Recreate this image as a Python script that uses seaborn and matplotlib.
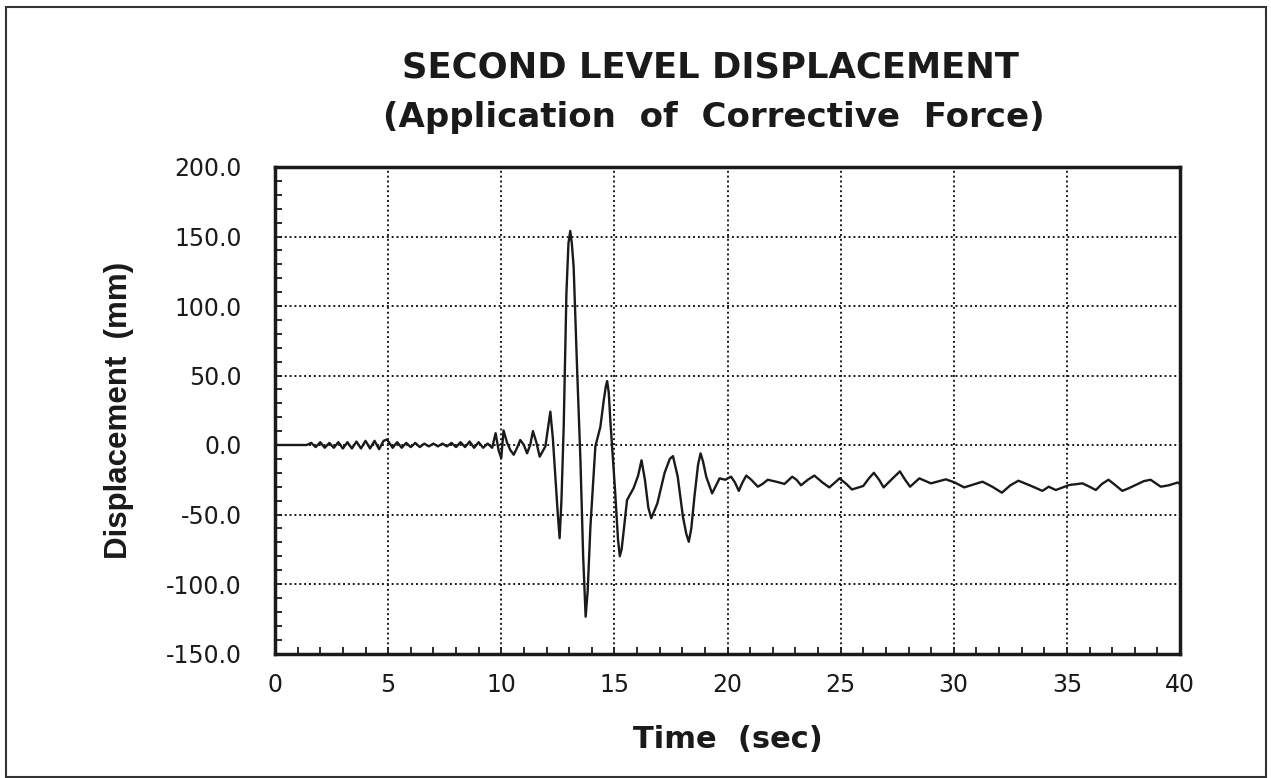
import matplotlib
matplotlib.use("Agg")
import matplotlib.pyplot as plt
import matplotlib.patches as mpatches
from matplotlib.ticker import MultipleLocator, FormatStrFormatter
import seaborn as sns
import pandas as pd

# ---- data ----
time_sec = [
    0.0, 1.4, 1.6, 1.8, 2.0, 2.2, 2.4, 2.6, 2.8, 3.0, 3.2, 3.4, 3.6, 3.8, 4.0, 4.2,
    4.4, 4.6, 4.8, 4.95, 5.2, 5.4, 5.6, 5.8, 6.0, 6.2, 6.4, 6.6, 6.8, 7.0, 7.2, 7.4,
    7.6, 7.8, 8.0, 8.2, 8.4, 8.6, 8.8, 9.0, 9.2, 9.4, 9.6, 9.75, 9.88, 10.0, 10.1,
    10.25, 10.4, 10.55, 10.7, 10.84, 11.0, 11.14, 11.28, 11.4, 11.55, 11.7, 11.95,
    12.17, 12.28, 12.39, 12.5, 12.58, 12.66, 12.76, 12.88, 12.97, 13.05, 13.12, 13.2,
    13.35, 13.5, 13.62, 13.73, 13.82, 13.94, 14.16, 14.38, 14.53, 14.62, 14.68, 14.75,
    14.82, 15.04, 15.16, 15.24, 15.32, 15.4, 15.56, 15.85, 16.05, 16.2, 16.35, 16.5,
    16.63, 16.9, 17.22, 17.45, 17.59, 17.8, 18.03, 18.18, 18.29, 18.4, 18.54, 18.7,
    18.81, 18.92, 19.06, 19.32, 19.5, 19.65, 19.9, 20.16, 20.33, 20.5, 20.66, 20.83,
    21.05, 21.34, 21.55, 21.78, 22.15, 22.52, 22.86, 23.05, 23.25, 23.55, 23.84, 24.2,
    24.5, 24.75, 24.95, 25.25, 25.5, 26.0, 26.25, 26.47, 26.7, 26.9, 27.3, 27.62,
    27.85, 28.07, 28.48, 28.99, 29.65, 30.05, 30.46, 31.27, 31.7, 32.13, 32.5, 32.86,
    33.43, 33.92, 34.2, 34.51, 35.1, 35.69, 36.0, 36.28, 36.55, 36.84, 37.15, 37.45,
    37.75, 38.04, 38.4, 38.7, 39.15, 39.5, 39.9, 40.0,
]
displacement_mm = [
    0.0, 0.0, 1.5, -1.5, 2.0, -2.0, 1.5, -2.0, 2.0, -2.5, 2.0, -2.5, 2.5, -2.5, 3.0, -2.5,
    3.0, -3.0, 3.0, 4.0, -2.0, 2.0, -2.0, 1.5, -1.5, 1.5, -1.5, 1.0, -1.0, 1.0, -1.0, 1.0,
    -1.0, 1.5, -1.5, 2.0, -1.5, 2.5, -2.0, 2.0, -2.0, 1.0, -2.0, 8.5, -3.6, -9.5, 10.5,
    2.0, -3.6, -7.0, -2.0, 3.6, 0.0, -6.0, 0.0, 10.0, 2.0, -8.4, -1.0,
    24.0, 5.0, -22.8, -50.0, -67.0, -40.0, 13.0, 109.0, 145.0, 154.0, 145.0, 128.0,
    56.0, -11.0, -80.0, -123.5, -105.0, -59.0, -1.0, 13.0, 32.0, 42.0, 46.0, 38.0,
    18.0, -35.0, -68.0, -80.0, -75.0, -63.5, -39.6, -31.0, -22.0, -11.0, -25.0, -45.0,
    -52.7, -42.0, -20.0, -10.0, -8.0, -22.8, -51.6, -64.0, -69.6, -60.0, -37.0, -14.0,
    -6.0, -12.0, -22.8, -34.8, -29.0, -24.0, -25.0, -22.8, -27.0, -33.0, -27.0, -22.0,
    -25.0, -30.0, -28.0, -25.0, -26.4, -28.0, -22.8, -25.0, -29.0, -25.0, -22.0, -27.0,
    -30.5, -27.0, -24.0, -28.0, -32.0, -29.5, -24.0, -20.0, -25.0, -30.5, -24.0, -19.0,
    -25.0, -30.0, -24.0, -27.6, -24.7, -27.0, -30.5, -26.4, -30.0, -34.3, -29.0, -25.7,
    -29.5, -33.0, -30.0, -32.4, -28.8, -27.6, -30.0, -32.4, -28.0, -25.0, -29.0, -33.0,
    -31.0, -28.8, -26.0, -25.0, -30.0, -29.0, -27.0, -28.0,
]
x_ticks = [0, 5, 10, 15, 20, 25, 30, 35, 40]
y_ticks = [-150.0, -100.0, -50.0, 0.0, 50.0, 100.0, 150.0, 200.0]
title_line1 = "SECOND LEVEL DISPLACEMENT"
title_line2 = "(Application  of  Corrective  Force)"
x_label = "Time  (sec)"
y_label = "Displacement  (mm)"

df = pd.DataFrame({"t": time_sec, "d": displacement_mm})

sns.set_theme(style="white")
plt.rcParams["font.family"] = ["DejaVu Sans"]

ink = "#1a1a1a"
fig = plt.figure(figsize=(12.71, 7.78), dpi=100)
ax = fig.add_axes([275 / 1271, 1 - 653.5 / 778, (1180 - 275) / 1271, (653.5 - 167) / 778])

sns.lineplot(data=df, x="t", y="d", ax=ax, color=ink, linewidth=1.7,
             estimator=None, sort=False)

ax.set_xlim(0, 40)
ax.set_ylim(-150, 200)
ax.set_xticks(x_ticks)
ax.set_yticks(y_ticks)
ax.xaxis.set_minor_locator(MultipleLocator(1))
ax.yaxis.set_minor_locator(MultipleLocator(10))
ax.yaxis.set_major_formatter(FormatStrFormatter("%.1f"))

ax.grid(True, which="major", color=ink, linestyle=(0, (1, 1.5)), linewidth=1.4)
ax.tick_params(axis="both", which="both", direction="in", color=ink,
               labelcolor=ink, labelsize=17, bottom=True, left=True,
               top=False, right=False)
ax.tick_params(axis="both", which="major", length=5, width=1.3)
ax.tick_params(axis="both", which="minor", length=5, width=1.3)
ax.tick_params(axis="x", which="major", pad=14)
ax.tick_params(axis="y", which="major", pad=24)

for s in ax.spines.values():
    s.set_visible(True)
    s.set_color(ink)
    s.set_linewidth(2.5)

ax.set_xlabel(x_label, fontsize=22, fontweight="bold", color=ink, labelpad=20)
ax.set_ylabel(y_label, fontsize=22.5, fontweight="bold", color=ink, labelpad=23,
              family=["Liberation Sans", "DejaVu Sans"])

fig.text(711 / 1271, 1 - 67 / 778, title_line1, ha="center", va="center",
         fontsize=25.5, fontweight="bold", color=ink)
fig.text(714 / 1271, 1 - 118 / 778, title_line2, ha="center", va="center",
         fontsize=24.5, fontweight="bold", color=ink)

frame = mpatches.Rectangle((6 / 1271, 1 / 778), (1266 - 6) / 1271, (771 - 1) / 778,
                           transform=fig.transFigure, fill=False,
                           edgecolor="#333333", linewidth=1.5)
fig.patches.append(frame)

fig.savefig("out.png", dpi=100, facecolor="white")
